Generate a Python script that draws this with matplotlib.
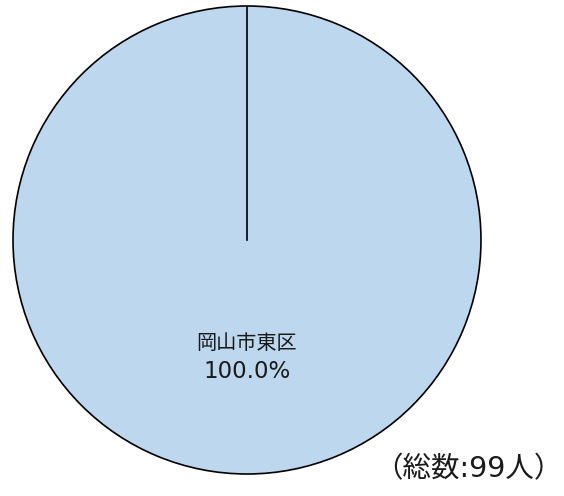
import matplotlib
matplotlib.use("Agg")
import matplotlib.pyplot as plt
import numpy as np

plt.rcParams['font.family'] = ['DejaVu Sans', 'Noto Sans CJK JP']

categories = ["岡山市東区"]
values = [99]
total_label = "（総数:99人）"
colors = ["#BDD7EE"]

fig = plt.figure(figsize=(5.64, 4.96), dpi=100)
cx, cy, r = 247, 240, 234
W, H = 564, 496
ax = fig.add_axes([(cx - r) / W, (H - cy - r) / H, 2 * r / W, 2 * r / H])
ax.set_aspect('equal')

start = 90
wedges, texts, autotexts = ax.pie(
    values, labels=categories, colors=colors, startangle=start, counterclock=False,
    radius=1.0, labeldistance=0.44, pctdistance=0.56,
    autopct=lambda p: f"{p:.1f}%",
    wedgeprops=dict(edgecolor="black", linewidth=1.2),
    textprops=dict(color="#1a1a1a"),
)
# radial boundary line at the start angle (matplotlib omits it for a full wedge)
if len(values) == 1:
    a = np.deg2rad(start)
    ax.plot([0, np.cos(a)], [0, np.sin(a)], color="black", linewidth=1.2, zorder=3)

for t in texts:
    t.set_ha('center'); t.set_va('center'); t.set_fontsize(14.5)
    t.set_family(['Noto Sans CJK JP', 'DejaVu Sans'])
for t in autotexts:
    t.set_ha('center'); t.set_va('center'); t.set_fontsize(16.5)
ax.set_xlim(-1, 1)
ax.set_ylim(-1, 1)
ax.axis('off')

fig.text(468 / W, 1 - 469 / H, total_label, ha='center', va='center', fontsize=20.5,
         color="#1a1a1a")

fig.savefig("out.png", dpi=100)
